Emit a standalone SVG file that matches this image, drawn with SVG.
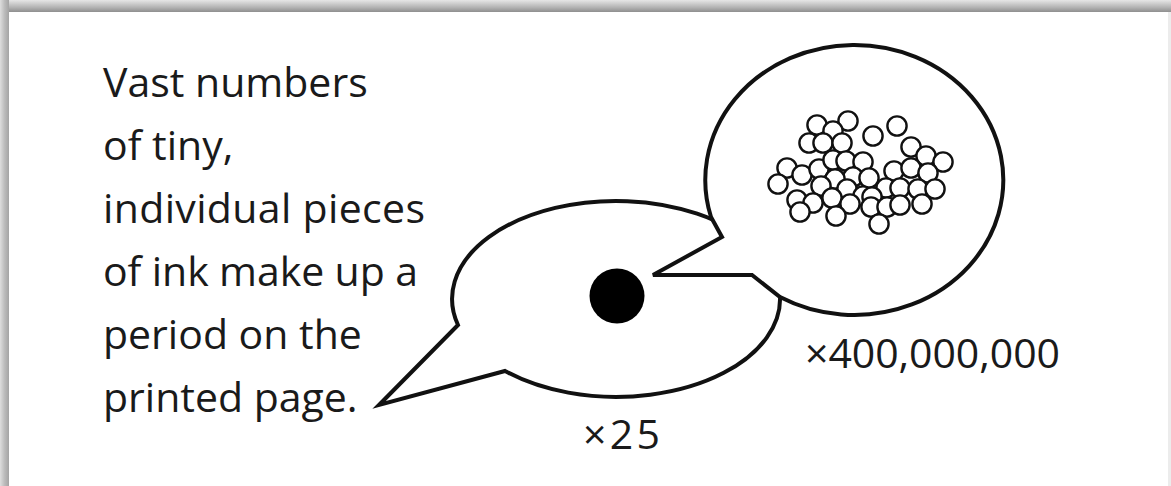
<svg xmlns="http://www.w3.org/2000/svg" width="1171" height="486" viewBox="0 0 1171 486">
  <defs>
    <linearGradient id="gTop" x1="0" y1="0" x2="0" y2="1">
      <stop offset="0" stop-color="#e6e6e6"/>
      <stop offset="0.6" stop-color="#b4b4b4"/>
      <stop offset="1" stop-color="#8f8f8f"/>
    </linearGradient>
    <linearGradient id="gLeft" x1="0" y1="0" x2="1" y2="0">
      <stop offset="0" stop-color="#dedede"/>
      <stop offset="0.5" stop-color="#bcbcbc"/>
      <stop offset="1" stop-color="#a4a4a4"/>
    </linearGradient>
    <style>
      .txt { font-family: "Open Sans", "Liberation Sans", sans-serif; font-size: 41px; fill: #1a1a1a; }
      .bubble { fill: #ffffff; stroke: #111111; stroke-width: 4; stroke-linejoin: miter; }
      .p { fill: #ffffff; stroke: #111111; stroke-width: 2.4; }
    </style>
  </defs>

  <rect x="0" y="0" width="1171" height="486" fill="#ffffff"/>
  <g id="frame">
    <rect x="0" y="0" width="1171" height="12" fill="url(#gTop)"/>
    <rect x="0" y="0" width="9" height="486" fill="url(#gLeft)"/>
    <rect x="1168" y="12" width="3" height="474" fill="#ececec"/>
  </g>

  <g id="caption">
    <text class="txt" x="103" y="97">Vast numbers</text>
    <text class="txt" x="103" y="160">of tiny,</text>
    <text class="txt" x="103" y="223" textLength="322">individual pieces</text>
    <text class="txt" x="103" y="286" textLength="315">of ink make up a</text>
    <text class="txt" x="103" y="349">period on the</text>
    <text class="txt" x="103" y="412">printed page.</text>
  </g>

  <g id="bubble-x25">
    <path class="bubble" d="M 458 325 L 379 405 L 505 371 A 164 98 0 1 0 458 325 Z"/>
    <circle cx="617" cy="296" r="27.5" fill="#000000"/>
  </g>

  <g id="bubble-x400M">
    <path class="bubble" d="M 711 217 L 722 237 L 653 275 L 752 275 L 780 297 A 149 135 0 1 0 711 217 Z"/>
    <g id="particles">
      <circle class="p" cx="817" cy="125" r="9.6"/>
      <circle class="p" cx="848" cy="121" r="9.6"/>
      <circle class="p" cx="833" cy="131" r="9.6"/>
      <circle class="p" cx="809" cy="143" r="9.6"/>
      <circle class="p" cx="823" cy="143" r="9.6"/>
      <circle class="p" cx="842" cy="143" r="9.6"/>
      <circle class="p" cx="873" cy="136" r="9.6"/>
      <circle class="p" cx="897" cy="126" r="9.6"/>
      <circle class="p" cx="911" cy="147" r="9.6"/>
      <circle class="p" cx="926" cy="156" r="9.6"/>
      <circle class="p" cx="943" cy="162" r="9.6"/>
      <circle class="p" cx="787" cy="168" r="9.6"/>
      <circle class="p" cx="778" cy="184" r="9.6"/>
      <circle class="p" cx="802" cy="175" r="9.6"/>
      <circle class="p" cx="819" cy="169" r="9.6"/>
      <circle class="p" cx="833" cy="160" r="9.6"/>
      <circle class="p" cx="846" cy="161" r="9.6"/>
      <circle class="p" cx="863" cy="162" r="9.6"/>
      <circle class="p" cx="894" cy="171" r="9.6"/>
      <circle class="p" cx="911" cy="168" r="9.6"/>
      <circle class="p" cx="928" cy="173" r="9.6"/>
      <circle class="p" cx="853" cy="177" r="9.6"/>
      <circle class="p" cx="835" cy="179" r="9.6"/>
      <circle class="p" cx="869" cy="178" r="9.6"/>
      <circle class="p" cx="821" cy="186" r="9.6"/>
      <circle class="p" cx="847" cy="189" r="9.6"/>
      <circle class="p" cx="886" cy="188" r="9.6"/>
      <circle class="p" cx="900" cy="188" r="9.6"/>
      <circle class="p" cx="918" cy="189" r="9.6"/>
      <circle class="p" cx="935" cy="189" r="9.6"/>
      <circle class="p" cx="797" cy="200" r="9.6"/>
      <circle class="p" cx="813" cy="203" r="9.6"/>
      <circle class="p" cx="800" cy="212" r="9.6"/>
      <circle class="p" cx="832" cy="198" r="9.6"/>
      <circle class="p" cx="863" cy="196" r="9.6"/>
      <circle class="p" cx="872" cy="197" r="9.6"/>
      <circle class="p" cx="850" cy="204" r="9.6"/>
      <circle class="p" cx="836" cy="216" r="9.6"/>
      <circle class="p" cx="871" cy="207" r="9.6"/>
      <circle class="p" cx="887" cy="207" r="9.6"/>
      <circle class="p" cx="900" cy="205" r="9.6"/>
      <circle class="p" cx="922" cy="204" r="9.6"/>
      <circle class="p" cx="879" cy="224" r="9.6"/>
    </g>
  </g>

  <g id="labels">
    <text class="txt" x="805" y="368" textLength="255">×400,000,000</text>
    <text class="txt" x="583" y="449" textLength="77">×25</text>
  </g>
</svg>
